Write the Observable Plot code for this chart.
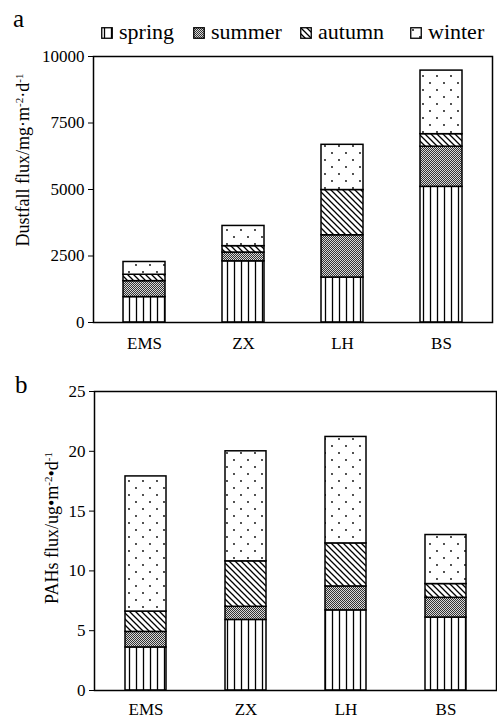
<!DOCTYPE html>
<html><head><meta charset="utf-8">
<script src="https://cdn.jsdelivr.net/npm/d3@7"></script>
<script src="https://cdn.jsdelivr.net/npm/@observablehq/plot@0.6"></script>
<style>
body{margin:0;background:#fff;}
#wrap{position:relative;width:497px;height:718px;overflow:hidden;font-family:"Liberation Serif","Times New Roman",serif;color:#000;}
#wrap svg, #wrap svg text{font-family:"Liberation Serif","Times New Roman",serif !important;}
.abs{position:absolute;}
.panel{font-size:25px;line-height:1;}
.ytitle{position:absolute;transform:translate(-50%,-50%) rotate(-90deg);white-space:nowrap;font-size:18px;line-height:1;}
.ytitle sup{font-size:11px;vertical-align:6px;line-height:0;}
.leg{position:absolute;top:21px;font-size:22px;line-height:1;white-space:nowrap;font-family:"Liberation Serif","Times New Roman",serif;}
.leg svg{vertical-align:0px;margin-right:6px;}
</style></head><body>
<svg width="0" height="0" style="position:absolute">
  <defs>
    <pattern id="pat-spring" patternUnits="userSpaceOnUse" width="7" height="10">
      <rect width="7" height="10" fill="#fff"/>
      <line x1="3.5" y1="0" x2="3.5" y2="10" stroke="#000" stroke-width="1.3"/>
    </pattern>
    <pattern id="pat-summer" patternUnits="userSpaceOnUse" width="2" height="2">
      <rect width="2" height="2" fill="#d8d8d8"/>
      <rect x="0" y="0" width="1" height="1" fill="#333"/>
      <rect x="1" y="1" width="1" height="1" fill="#333"/>
    </pattern>
    <pattern id="pat-autumn" patternUnits="userSpaceOnUse" width="6" height="6">
      <rect width="6" height="6" fill="#fff"/>
      <path d="M0,0L6,6M-1,5L1,7M5,-1L7,1" stroke="#000" stroke-width="1.3"/>
    </pattern>
    <pattern id="pat-winter" patternUnits="userSpaceOnUse" width="14" height="14">
      <rect width="14" height="14" fill="#fff"/>
      <circle cx="3" cy="3" r="0.9" fill="#000"/>
      <circle cx="10" cy="10" r="0.9" fill="#000"/>
    </pattern>
  </defs>
</svg>
<div id="wrap">
  <div class="abs panel" style="left:13px;top:6px;">a</div>
  <div class="abs panel" style="left:15px;top:372px;">b</div>
  <div id="legend"></div>
  <div id="top" class="abs" style="left:0;top:45px;"></div>
  <div id="bottom" class="abs" style="left:0;top:380px;"></div>
  <div class="ytitle" style="left:23px;top:160px;">Dustfall flux/mg·m<sup>-2</sup>·d<sup>-1</sup></div>
  <div class="ytitle" style="left:52px;top:528px;">PAHs flux/ug•m<sup>-2</sup>•d<sup>-1</sup></div>
</div>
<script>
const sites = ["EMS", "ZX", "LH", "BS"];
const seasons = ["spring", "summer", "autumn", "winter"];

// (a) Dustfall flux, mg·m-2·d-1, per season
const dustSpring = [955, 2300, 1690, 5100];
const dustSummer = [600, 330, 1590, 1510];
const dustAutumn = [240, 240, 1700, 470];
const dustWinter = [480, 760, 1700, 2390];
const dustTicks = [0, 2500, 5000, 7500, 10000];

// (b) PAHs flux, ug·m-2·d-1, per season
const pahSpring = [3.6, 5.9, 6.7, 6.1];
const pahSummer = [1.3, 1.1, 2.0, 1.65];
const pahAutumn = [1.7, 3.8, 3.6, 1.15];
const pahWinter = [11.3, 9.2, 8.9, 4.1];
const pahTicks = [0, 5, 10, 15, 20, 25];

const legendLeft = [101, 193, 300, 410];

function rows(series) {
  const out = [];
  sites.forEach((s, i) => seasons.forEach((se, j) => out.push({site: s, season: se, value: series[j][i]})));
  return out;
}

const colorScale = {type: "ordinal", domain: seasons, range: seasons.map(s => `url(#pat-${s})`)};

function chart(data, opts) {
  return Plot.plot({
    width: 497,
    height: opts.height,
    marginLeft: opts.marginLeft,
    marginRight: opts.marginRight,
    marginTop: 11,
    marginBottom: opts.marginBottom,
    style: {fontFamily: '"Liberation Serif","Times New Roman",serif', fontSize: "17px", color: "#000", background: "transparent", overflow: "visible"},
    x: {domain: sites, paddingInner: opts.pi, paddingOuter: opts.po, label: null},
    y: {domain: opts.domain, label: null},
    color: colorScale,
    marks: [
      Plot.barY(data, Plot.stackY({x: "site", y: "value", fill: "season", stroke: "#000", strokeWidth: 1.5, order: null})),
      Plot.axisY({ticks: opts.ticks, tickSize: 5, tickPadding: 4, tickFormat: d => String(d), label: null, fontSize: 17}),
      Plot.axisX({tickSize: 0, tickPadding: opts.xpad, label: null, fontSize: 17}),
      Plot.frame({stroke: "#000", strokeWidth: 1.5})
    ]
  });
}

const dustData = rows([dustSpring, dustSummer, dustAutumn, dustWinter]);
const pahData = rows([pahSpring, pahSummer, pahAutumn, pahWinter]);

document.getElementById("top").appendChild(chart(dustData, {height: 315, marginLeft: 93, marginRight: 5, marginBottom: 38, pi: 0.58, po: 0.29, domain: [0, 10000], ticks: dustTicks, xpad: 14}));
document.getElementById("bottom").appendChild(chart(pahData, {height: 338, marginLeft: 94, marginRight: 1, marginBottom: 28, pi: 0.59, po: 0.3, domain: [0, 25], ticks: pahTicks, xpad: 12}));

const leg = document.getElementById("legend");
seasons.forEach((s, i) => {
  const d = document.createElement("div");
  d.className = "leg";
  d.style.left = legendLeft[i] + "px";
  d.innerHTML = `<svg width="12" height="12"><rect x="0.75" y="0.75" width="10.5" height="10.5" fill="url(#pat-${s})" stroke="#000" stroke-width="1.3"/></svg>${s}`;
  leg.appendChild(d);
});
</script>
</body></html>
